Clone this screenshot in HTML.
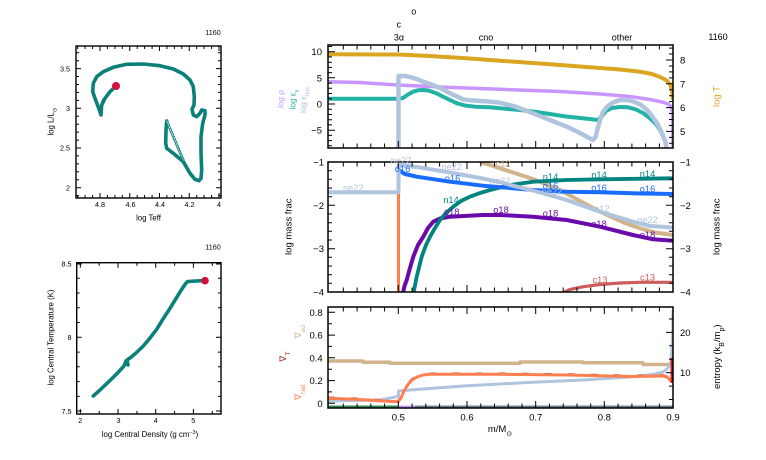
<!DOCTYPE html>
<html><head><meta charset="utf-8"><style>
html,body{margin:0;padding:0;background:#fff;}
svg{display:block;font-family:"Liberation Sans",sans-serif;}
</style></head><body>
<svg width="766" height="460" viewBox="0 0 766 460" xmlns="http://www.w3.org/2000/svg">
<defs>
<clipPath id="c1"><rect x="328" y="45" width="345" height="103"/></clipPath>
<clipPath id="c2"><rect x="328" y="162" width="345" height="130"/></clipPath>
<clipPath id="c3"><rect x="328" y="307" width="345" height="101"/></clipPath>
</defs>

<!-- ============ HR diagram ============ -->
<g fill="none" stroke-linejoin="round" stroke-linecap="round">
<path d="M116,86 L110,91.7 L105,98.3 L101.7,105 L101,115 L99,109 L95,98.3 L92.7,91.7 L93.3,83.3 L96.7,76.7 L103.3,71.7 L113.3,67.3 L126.7,64.3 L143.3,64 L160,65.7 L173.3,69 L183.3,74 L190,80 L193.3,86.7 L194.3,96.7 L194,105 L192,109.3 L193.3,115 L196.7,116.7 L200,113.3 L201.7,110 L205,110.7 L205,115 L202.7,123.3 L201,136.7 L201,153.3 L201.7,170 L201,178.3 L199,180.7 L195,179.3 L190,173.3 L183.3,161.7 L173.3,153.3 L166.7,148.3 L165.7,143.3 L166,130 L166.7,121" stroke="#0b8078" stroke-width="3.6"/>
<path d="M100,110 L103,100" stroke="#0b8078" stroke-width="2.5"/>
<path d="M166.7,121 L183.3,160" stroke="#0b8078" stroke-width="2.6"/>
<path d="M166.7,121 L183.3,160" stroke="#ffffff" stroke-width="0.8" stroke-dasharray="1.5 1.5"/>
</g>
<circle cx="116" cy="86" r="4" fill="#d4103c"/>
<rect x="76" y="46" width="145" height="152" fill="none" stroke="#000" stroke-width="1.4"/>
<path stroke="#000" stroke-width="1" fill="none" d="
M100,198v-5 M129.75,198v-5 M159.5,198v-5 M189.25,198v-5 M219,198v-5
M100,46v5 M129.75,46v5 M159.5,46v5 M189.25,46v5 M219,46v5
M77.7,198v-3 M85.1,198v-3 M92.6,198v-3 M107.4,198v-3 M114.9,198v-3 M122.3,198v-3 M137.2,198v-3 M144.6,198v-3 M152.1,198v-3 M166.9,198v-3 M174.4,198v-3 M181.8,198v-3 M196.7,198v-3 M204.1,198v-3 M211.6,198v-3
M77.7,46v3 M85.1,46v3 M92.6,46v3 M107.4,46v3 M114.9,46v3 M122.3,46v3 M137.2,46v3 M144.6,46v3 M152.1,46v3 M166.9,46v3 M174.4,46v3 M181.8,46v3 M196.7,46v3 M204.1,46v3 M211.6,46v3
M76,68.6h5 M76,108.3h5 M76,148h5 M76,187.7h5
M221,68.6h-5 M221,108.3h-5 M221,148h-5 M221,187.7h-5
M76,52.7h3 M76,60.7h3 M76,76.5h3 M76,84.5h3 M76,92.4h3 M76,100.4h3 M76,116.2h3 M76,124.2h3 M76,132.1h3 M76,140.1h3 M76,155.9h3 M76,163.9h3 M76,171.8h3 M76,179.8h3 M76,195.6h3
M221,52.7h-3 M221,60.7h-3 M221,76.5h-3 M221,84.5h-3 M221,92.4h-3 M221,100.4h-3 M221,116.2h-3 M221,124.2h-3 M221,132.1h-3 M221,140.1h-3 M221,155.9h-3 M221,163.9h-3 M221,171.8h-3 M221,179.8h-3 M221,195.6h-3"/>
<g font-size="7.2" fill="#000">
<text x="70" y="71.3" text-anchor="end">3.5</text>
<text x="70" y="111" text-anchor="end">3</text>
<text x="70" y="150.7" text-anchor="end">2.5</text>
<text x="70" y="190.4" text-anchor="end">2</text>
<text x="100" y="207" text-anchor="middle">4.8</text>
<text x="130.5" y="207" text-anchor="middle">4.6</text>
<text x="160" y="207" text-anchor="middle">4.4</text>
<text x="189.5" y="207" text-anchor="middle">4.2</text>
<text x="219" y="207" text-anchor="middle">4</text>
<text x="213" y="35" text-anchor="middle">1160</text>
<text x="148.5" y="220.5" text-anchor="middle" font-size="7.8">log Teff</text>
<text transform="translate(53.5,121.5) rotate(-90)" text-anchor="middle" font-size="7.8">log L/L<tspan font-size="5.5" baseline-shift="sub">⊙</tspan></text>
</g>

<!-- ============ Central T-rho ============ -->
<path d="M93.3,396 L100,390 L110,380.5 L118,372.5 L124,366 L126,361 L128,365 L127,360 L130,358 L136,353 L143.3,346 L150,338 L156.7,329.3 L163,319 L170,308.3 L176,298.5 L181.7,289.3 L185,284.5 L187.3,281.7 L195,281 L205,280.7" fill="none" stroke="#0b8078" stroke-width="3.6" stroke-linejoin="round" stroke-linecap="round"/>
<circle cx="205" cy="280.7" r="3.8" fill="#d4103c"/>
<rect x="76.7" y="262.7" width="144.3" height="151.3" fill="none" stroke="#000" stroke-width="1.4"/>
<path stroke="#000" stroke-width="1" fill="none" d="
M80.3,414v-5 M118,414v-5 M155.7,414v-5 M193.4,414v-5
M80.3,262.7v5 M118,262.7v5 M155.7,262.7v5 M193.4,262.7v5
M99.2,414v-3 M136.9,414v-3 M174.6,414v-3 M212.3,414v-3
M99.2,262.7v3 M136.9,262.7v3 M174.6,262.7v3 M212.3,262.7v3
M76.7,264h5 M76.7,337.3h5 M76.7,411h5
M221,264h-5 M221,337.3h-5 M221,411h-5
M76.7,278.3h3 M76.7,293h3 M76.7,307.8h3 M76.7,322.5h3 M76.7,352.1h3 M76.7,366.8h3 M76.7,381.6h3 M76.7,396.4h3
M221,278.3h-3 M221,293h-3 M221,307.8h-3 M221,322.5h-3 M221,352.1h-3 M221,366.8h-3 M221,381.6h-3 M221,396.4h-3"/>
<g font-size="7.2" fill="#000">
<text x="71.5" y="266.7" text-anchor="end">8.5</text>
<text x="71.5" y="340" text-anchor="end">8</text>
<text x="71.5" y="414" text-anchor="end">7.5</text>
<text x="80.3" y="423" text-anchor="middle">2</text>
<text x="118.5" y="423" text-anchor="middle">3</text>
<text x="155.7" y="423" text-anchor="middle">4</text>
<text x="193.3" y="423" text-anchor="middle">5</text>
<text x="213" y="249.5" text-anchor="middle">1160</text>
<text x="150" y="437" text-anchor="middle" font-size="7.8">log Central Density (g cm<tspan font-size="5.5" baseline-shift="super">−3</tspan>)</text>
<text transform="translate(53.5,337.5) rotate(-90)" text-anchor="middle" font-size="7.8">log Central Temperature (K)</text>
</g>

<!-- ============ Right top panel ============ -->
<g clip-path="url(#c1)" fill="none" stroke-linejoin="round">
<path d="M328,54.3 L398,54.5 L430,56 L470,58.5 L500,60.7 L540,63.5 L590,67.3 L620,69.5 L640,71.7 L652,74 L660,77 L666,80 L670,84 L672,90 L673,100" stroke="#daa520" stroke-width="4"/>
<path d="M328,81.7 L360,82.5 L398,85 L440,87 L500,89.3 L560,91.5 L600,94 L630,96.5 L650,99.5 L662,102 L668,104 L671,106.5 L672.5,112 L673,148" stroke="#c996ff" stroke-width="3.5"/>
<path d="M328,98.7 L398,98.7 L403,98 L408,94.5 L413,91.7 L418,90.3 L423,90 L428,90.5 L432,91.7 L438,94 L443,96.7 L450,100 L457,103.3 L465,105.5 L475,106.7 L490,107.3 L500,108.3 L520,110 L540,112.5 L566,116.5 L585,118.5 L598,120 L602,116 L606,111 L612,108 L620,107 L628,107.3 L636,109.5 L643,113 L650,118.3 L656,124 L660,130 L663,136 L665.5,142 L667,150" stroke="#22b2a6" stroke-width="4"/>
<path d="M398.5,150 L398.5,76 L405,76 L410,77 L417,79 L423,81.7 L430,84 L437,86.7 L444,90 L450,93.3 L457,96.5 L463,99.3 L470,100.3 L480,101 L492,101.8 L500,102.7 L515,106.5 L533,113.3 L550,120 L567,126.7 L580,133 L588,137.5 L593,140 L595.5,137 L597,131 L600,120 L603,112 L607,106.7 L613,102.5 L620,100 L627,100 L634,101.7 L641,105 L647,110 L652,116 L657,123.3 L660.5,130 L663.3,136.7 L665.5,142 L666.7,150" stroke="#b0c4de" stroke-width="4.5"/>
</g>
<rect x="328" y="45" width="345" height="103" fill="none" stroke="#000" stroke-width="1.5"/>
<path stroke="#000" stroke-width="1" fill="none" d="
M398.3,148v-7 M467,148v-7 M535.7,148v-7 M604.3,148v-7
M398.3,45v7 M467,45v7 M535.7,45v7 M604.3,45v7
M343.3,148v-4.5 M357.1,148v-4.5 M370.8,148v-4.5 M384.6,148v-4.5 M412.1,148v-4.5 M425.8,148v-4.5 M439.6,148v-4.5 M453.3,148v-4.5 M480.8,148v-4.5 M494.5,148v-4.5 M508.2,148v-4.5 M522,148v-4.5 M549.5,148v-4.5 M563.2,148v-4.5 M577,148v-4.5 M590.7,148v-4.5 M618.1,148v-4.5 M631.9,148v-4.5 M645.6,148v-4.5 M659.4,148v-4.5
M343.3,45v4.5 M357.1,45v4.5 M370.8,45v4.5 M384.6,45v4.5 M412.1,45v4.5 M425.8,45v4.5 M439.6,45v4.5 M453.3,45v4.5 M480.8,45v4.5 M494.5,45v4.5 M508.2,45v4.5 M522,45v4.5 M549.5,45v4.5 M563.2,45v4.5 M577,45v4.5 M590.7,45v4.5 M618.1,45v4.5 M631.9,45v4.5 M645.6,45v4.5 M659.4,45v4.5
M328,51.7h7 M328,77.8h7 M328,104h7 M328,130.2h7
M328,46.5h4 M328,56.9h4 M328,62.2h4 M328,67.4h4 M328,72.6h4 M328,83.1h4 M328,88.3h4 M328,93.5h4 M328,98.8h4 M328,109.2h4 M328,114.5h4 M328,119.7h4 M328,124.9h4 M328,135.4h4 M328,140.6h4 M328,145.8h4
M673,60h-7 M673,83.8h-7 M673,107.6h-7 M673,131.4h-7
M673,48.1h-4 M673,54.05h-4 M673,65.95h-4 M673,71.9h-4 M673,77.85h-4 M673,89.75h-4 M673,95.7h-4 M673,101.65h-4 M673,113.55h-4 M673,119.5h-4 M673,125.45h-4 M673,137.35h-4 M673,143.3h-4"/>
<g font-size="9.5" fill="#000">
<text x="322" y="55.2" text-anchor="end">10</text>
<text x="322" y="81.3" text-anchor="end">5</text>
<text x="322" y="107.5" text-anchor="end">0</text>
<text x="322" y="133.7" text-anchor="end">−5</text>
<text x="680" y="63.5">8</text>
<text x="680" y="87.3">7</text>
<text x="680" y="111.1">6</text>
<text x="680" y="134.9">5</text>
<text x="399" y="40.5" text-anchor="middle" font-size="9">3α</text>
<text x="486" y="40.5" text-anchor="middle" font-size="9">cno</text>
<text x="622" y="40.5" text-anchor="middle" font-size="9">other</text>
<text x="398.7" y="27.5" text-anchor="middle" font-size="9">c</text>
<text x="413.7" y="14.5" text-anchor="middle" font-size="9">o</text>
<text x="718" y="40" text-anchor="middle" font-size="9">1160</text>
<text transform="translate(719.5,96.5) rotate(-90)" text-anchor="middle" fill="#daa520">log T</text>
</g>
<g font-size="8.2">
<text transform="translate(283.5,108) rotate(-90)" fill="#c996ff">log ρ</text>
<text transform="translate(295.5,109.5) rotate(-90)" fill="#22b2a6">log ε<tspan font-size="6" baseline-shift="sub">ν</tspan></text>
<text transform="translate(306,113) rotate(-90)" fill="#b0c4de">log ε<tspan font-size="6" baseline-shift="sub">nuc</tspan></text>
</g>

<!-- ============ Middle panel ============ -->
<g clip-path="url(#c2)" fill="none" stroke-linejoin="round">
<path d="M560,294 L570,289.5 L583.3,286.7 L600,284.5 L620,283 L640,282.3 L673,282.3" stroke="#cd5c5c" stroke-width="3.2"/>
<path d="M480,162 L490,165 L500,168.3 L533,179 L560,190 L580,201 L600,211.7 L625,223 L640,228.3 L655,232.5 L673,235" stroke="#d2b48c" stroke-width="4"/>
<path d="M402.7,294 L404.5,286 L406.7,280 L410,268 L413.3,256.7 L418,245 L423.3,236.7 L428,228 L433.3,221.7 L440,218.5 L450,216.7 L483,215 L500,215 L533,216.7 L566.7,220 L600,226.7 L633,235 L653,239.3 L673,240.7" stroke="#6a0aaa" stroke-width="4"/>
<path d="M413.3,294 L416.7,276.7 L421.7,256.7 L426,245 L430,236.7 L435,228 L440,220 L446,213 L453.3,206.7 L461,201 L470,196.7 L480,193 L490,190 L500,187.5 L510,185 L533,181.7 L566.7,180 L600,179.3 L673,178.3" stroke="#008480" stroke-width="3.8"/>
<path d="M398.5,170 L405,174 L416.7,176.7 L450,181.7 L483,185.7 L510,188 L533,190 L566.7,191.7 L600,192.3 L633,193.3 L673,194" stroke="#1a6cff" stroke-width="4"/>
<path d="M328,192.3 L398.5,192.3 L398.5,165 L420,167.5 L450,172.5 L480,178 L500,182 L510,185 L533,190.5 L566.7,200 L600,211.7 L633,221.7 L650,226 L673,227.5" stroke="#b0c4de" stroke-width="4"/>
<path d="M398.5,194 L398.5,294" stroke="#ff7f50" stroke-width="3"/>
</g>
<rect x="328" y="162" width="345" height="130" fill="none" stroke="#000" stroke-width="1.5"/>
<path stroke="#000" stroke-width="1" fill="none" d="
M398.3,292v-7 M467,292v-7 M535.7,292v-7 M604.3,292v-7
M398.3,162v7 M467,162v7 M535.7,162v7 M604.3,162v7
M343.3,292v-4.5 M357.1,292v-4.5 M370.8,292v-4.5 M384.6,292v-4.5 M412.1,292v-4.5 M425.8,292v-4.5 M439.6,292v-4.5 M453.3,292v-4.5 M480.8,292v-4.5 M494.5,292v-4.5 M508.2,292v-4.5 M522,292v-4.5 M549.5,292v-4.5 M563.2,292v-4.5 M577,292v-4.5 M590.7,292v-4.5 M618.1,292v-4.5 M631.9,292v-4.5 M645.6,292v-4.5 M659.4,292v-4.5
M343.3,162v4.5 M357.1,162v4.5 M370.8,162v4.5 M384.6,162v4.5 M412.1,162v4.5 M425.8,162v4.5 M439.6,162v4.5 M453.3,162v4.5 M480.8,162v4.5 M494.5,162v4.5 M508.2,162v4.5 M522,162v4.5 M549.5,162v4.5 M563.2,162v4.5 M577,162v4.5 M590.7,162v4.5 M618.1,162v4.5 M631.9,162v4.5 M645.6,162v4.5 M659.4,162v4.5
M328,205.3h7 M328,248.7h7
M673,205.3h-7 M673,248.7h-7
M328,170.7h4 M328,179.3h4 M328,188h4 M328,196.7h4 M328,214h4 M328,222.7h4 M328,231.3h4 M328,240h4 M328,257.3h4 M328,266h4 M328,274.7h4 M328,283.3h4
M673,170.7h-4 M673,179.3h-4 M673,188h-4 M673,196.7h-4 M673,214h-4 M673,222.7h-4 M673,231.3h-4 M673,240h-4 M673,257.3h-4 M673,266h-4 M673,274.7h-4 M673,283.3h-4"/>
<g font-size="9.5" fill="#000">
<text x="324" y="165.5" text-anchor="end">−1</text>
<text x="324" y="208.8" text-anchor="end">−2</text>
<text x="324" y="252.2" text-anchor="end">−3</text>
<text x="324" y="295.5" text-anchor="end">−4</text>
<text x="680" y="165.5">−1</text>
<text x="680" y="208.8">−2</text>
<text x="680" y="252.2">−3</text>
<text x="680" y="295.5">−4</text>
<text transform="translate(291.5,226.7) rotate(-90)" text-anchor="middle">log mass frac</text>
<text transform="translate(719.5,226.7) rotate(-90)" text-anchor="middle">log mass frac</text>
</g>
<g font-size="9.3" text-anchor="middle">
<text x="353.3" y="191" fill="#b0c4de">ne22</text>
<text x="401" y="163.5" fill="#b0c4de">ne22</text>
<text x="402.5" y="172" fill="#1a6cff">o16</text>
<text x="451.7" y="170" fill="#b0c4de">ne22</text>
<text x="452.5" y="181.5" fill="#1a6cff">o16</text>
<text x="451" y="203" fill="#008480">n14</text>
<text x="451.7" y="215" fill="#6a0aaa">o18</text>
<text x="503" y="167" fill="#d2b48c">c12</text>
<text x="500" y="184" fill="#b0c4de">ne22</text>
<text x="501" y="213" fill="#6a0aaa">o18</text>
<text x="550.5" y="180" fill="#008480">n14</text>
<text x="599" y="178" fill="#008480">n14</text>
<text x="647.5" y="177" fill="#008480">n14</text>
<text x="550.5" y="189" fill="#1a6cff">o16</text>
<text x="599" y="191" fill="#1a6cff">o16</text>
<text x="647.5" y="192" fill="#1a6cff">o16</text>
<text x="552" y="194.5" fill="#b0c4de">ne22</text>
<text x="602" y="212" fill="#b0c4de">c12</text>
<text x="647.5" y="223" fill="#b0c4de">ne22</text>
<text x="550.5" y="216.5" fill="#6a0aaa">o18</text>
<text x="599" y="227" fill="#6a0aaa">o18</text>
<text x="647.5" y="238" fill="#6a0aaa">o18</text>
<text x="600" y="283" fill="#cd5c5c">c13</text>
<text x="647.5" y="280.5" fill="#cd5c5c">c13</text>
</g>

<!-- ============ Bottom panel ============ -->
<g clip-path="url(#c3)" fill="none" stroke-linejoin="round">
<path d="M328,361 L363,361 L363,362.3 L390,362.3 L390,363.3 L520,363.3 L520,362 L583,362 L583,362.8 L643,362.8 L643,364.5 L672,364.5" stroke="#d2b48c" stroke-width="3.5"/>
<path d="M328,401 L380,400 L396.7,396.7 L398.5,396 L398.5,391 L410,390 L433,388.3 L467,385.7 L500,384 L533,382.3 L583,380 L633,376.7 L655,374 L663,372 L668,368 L671,362 L672.5,340 L673,310" stroke="#b0c4de" stroke-width="3"/>
<path d="M328,397.8 L360,399 L383,400.5 L398,401.2 L401,397.5 L404,390.5 L408,384 L412,379.5 L417,376.5 L423,374.5 L430,373.8 L500,373.8 L566,374.5 L633,376 L663,375.5 L667,376.5 L670,379.5 L672,381.5" stroke="#b22222" stroke-width="2.6" stroke-dasharray="7 16"/>
<path d="M328,398.3 L360,399.5 L383,401 L398,401.7 L401,398 L404,391 L408,384.5 L412,380 L417,377 L423,375 L430,374.3 L500,374.3 L566,375 L633,376.5 L663,376 L667,377 L670,380 L672,382" stroke="#ff7f50" stroke-width="3"/>
<path d="M328,407 L398.5,407" stroke="#2e8b57" stroke-width="3"/>
<path d="M398.5,407 L415,407" stroke="#c996ff" stroke-width="3"/>
<path d="M415,407 L673,407" stroke="#708090" stroke-width="3"/>
<path d="M672,358 L672,383" stroke="#cc2222" stroke-width="3"/>
</g>
<rect x="328" y="307" width="345" height="101" fill="none" stroke="#000" stroke-width="1.5"/>
<path stroke="#000" stroke-width="1" fill="none" d="
M398.3,408v-7 M467,408v-7 M535.7,408v-7 M604.3,408v-7
M398.3,307v7 M467,307v7 M535.7,307v7 M604.3,307v7
M343.3,408v-4.5 M357.1,408v-4.5 M370.8,408v-4.5 M384.6,408v-4.5 M412.1,408v-4.5 M425.8,408v-4.5 M439.6,408v-4.5 M453.3,408v-4.5 M480.8,408v-4.5 M494.5,408v-4.5 M508.2,408v-4.5 M522,408v-4.5 M549.5,408v-4.5 M563.2,408v-4.5 M577,408v-4.5 M590.7,408v-4.5 M618.1,408v-4.5 M631.9,408v-4.5 M645.6,408v-4.5 M659.4,408v-4.5
M343.3,307v4.5 M357.1,307v4.5 M370.8,307v4.5 M384.6,307v4.5 M412.1,307v4.5 M425.8,307v4.5 M439.6,307v4.5 M453.3,307v4.5 M480.8,307v4.5 M494.5,307v4.5 M508.2,307v4.5 M522,307v4.5 M549.5,307v4.5 M563.2,307v4.5 M577,307v4.5 M590.7,307v4.5 M618.1,307v4.5 M631.9,307v4.5 M645.6,307v4.5 M659.4,307v4.5
M328,312.3h7 M328,335.1h7 M328,357.8h7 M328,380.6h7 M328,403.3h7
M328,323.7h4 M328,346.4h4 M328,369.2h4 M328,391.9h4
M673,332.4h-7 M673,372.7h-7
M673,319h-4 M673,345.8h-4 M673,359.3h-4 M673,386.1h-4 M673,399.5h-4"/>
<g font-size="9.5" fill="#000">
<text x="322.7" y="315.8" text-anchor="end">0.8</text>
<text x="322.7" y="338.6" text-anchor="end">0.6</text>
<text x="322.7" y="361.3" text-anchor="end">0.4</text>
<text x="322.7" y="384.1" text-anchor="end">0.2</text>
<text x="322.7" y="406.8" text-anchor="end">0</text>
<text x="680" y="335.9">20</text>
<text x="680" y="376.2">10</text>
<text x="398.3" y="420.5" text-anchor="middle">0.5</text>
<text x="467" y="420.5" text-anchor="middle">0.6</text>
<text x="535.7" y="420.5" text-anchor="middle">0.7</text>
<text x="604.3" y="420.5" text-anchor="middle">0.8</text>
<text x="673" y="420.5" text-anchor="middle">0.9</text>
<text x="500" y="432" text-anchor="middle">m/M<tspan font-size="7" baseline-shift="sub">⊙</tspan></text>
<text transform="translate(720,356.7) rotate(-90)" text-anchor="middle">entropy (k<tspan font-size="7" baseline-shift="sub">B</tspan>/m<tspan font-size="7" baseline-shift="sub">p</tspan>)</text>
</g>
<g font-size="9">
<text transform="translate(301,338.3) rotate(-90)" fill="#d2b48c">∇<tspan font-size="6.5" baseline-shift="sub">ad</tspan></text>
<text transform="translate(286,361.7) rotate(-90)" fill="#b22222">∇<tspan font-size="6.5" baseline-shift="sub">T</tspan></text>
<text transform="translate(301,400) rotate(-90)" fill="#ff7f50">∇<tspan font-size="6.5" baseline-shift="sub">rad</tspan></text>
</g>
</svg>
</body></html>
